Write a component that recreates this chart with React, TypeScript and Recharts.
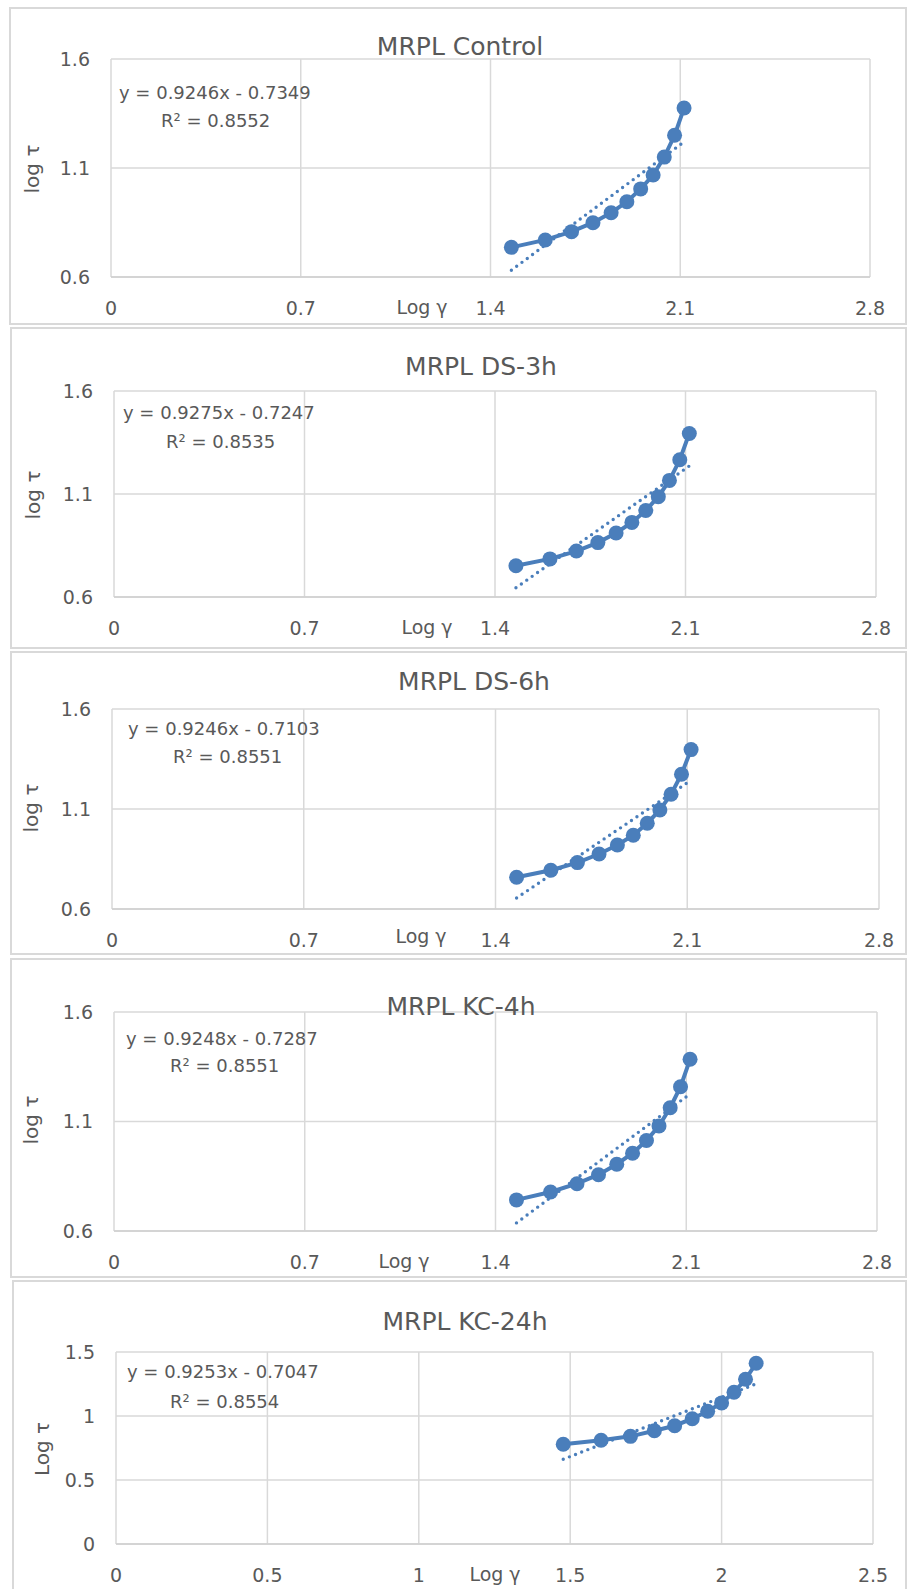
import { ComposedChart, Line, XAxis, YAxis, CartesianGrid } from "recharts";

const FONT = '"DejaVu Sans", sans-serif';
const BLUE = "#4a7ebb";
const GRID = "#d9d9d9";
const TEXT = "#595959";

// log of shear rate (same for every sample)
const LOG_GAMMA = [1.477, 1.602, 1.699, 1.778, 1.845, 1.903, 1.954, 2.0, 2.041, 2.079, 2.114];

// log of shear stress, one array per sample
const TAU_CONTROL = [0.736, 0.770, 0.808, 0.849, 0.895, 0.945, 1.004, 1.068, 1.150, 1.250, 1.375];
const TAU_DS3 = [0.752, 0.785, 0.823, 0.864, 0.911, 0.962, 1.020, 1.087, 1.166, 1.266, 1.394];
const TAU_DS6 = [0.759, 0.794, 0.832, 0.875, 0.920, 0.969, 1.029, 1.095, 1.174, 1.274, 1.397];
const TAU_KC4 = [0.742, 0.778, 0.816, 0.857, 0.905, 0.955, 1.013, 1.080, 1.163, 1.259, 1.384];
const TAU_KC24 = [0.779, 0.810, 0.841, 0.885, 0.924, 0.979, 1.037, 1.102, 1.185, 1.287, 1.412];

// linear trendline end points
const TREND_X = [1.477, 2.114];
const TREND_CONTROL = [0.631, 1.220];
const TREND_DS3 = [0.645, 1.236];
const TREND_DS6 = [0.655, 1.244];
const TREND_KC4 = [0.637, 1.226];
const TREND_KC24 = [0.662, 1.251];

const TITLES = ["MRPL Control", "MRPL DS-3h", "MRPL DS-6h", "MRPL KC-4h", "MRPL KC-24h"];
const EQUATIONS = [
  "y = 0.9246x - 0.7349",
  "y = 0.9275x - 0.7247",
  "y = 0.9246x - 0.7103",
  "y = 0.9248x - 0.7287",
  "y = 0.9253x - 0.7047",
];
const R2 = ["0.8552", "0.8535", "0.8551", "0.8551", "0.8554"];
const X_LABEL = "Log γ";
const Y_LABELS = ["log τ", "log τ", "log τ", "log τ", "Log τ"];

const X_TICKS_A = [0, 0.7, 1.4, 2.1, 2.8];
const Y_TICKS_A = [0.6, 1.1, 1.6];
const X_TICKS_B = [0, 0.5, 1, 1.5, 2, 2.5];
const Y_TICKS_B = [0, 0.5, 1, 1.5];

const SERIES = [TAU_CONTROL, TAU_DS3, TAU_DS6, TAU_KC4, TAU_KC24];
const TRENDS = [TREND_CONTROL, TREND_DS3, TREND_DS6, TREND_KC4, TREND_KC24];

// page-coordinate layout of each panel
type Layout = {
  box: [number, number, number]; // left, top, bottom
  plot: [number, number, number, number]; // L, R, T, B
  title: [number, number];
  eq: [number, number];
  r2: [number, number];
  xl: [number, number];
  yl: [number, number];
};
const LAYOUT: Layout[] = [
  { box: [9, 7, 325], plot: [111, 870, 59, 277], title: [460, 48], eq: [119, 94], r2: [161, 122], xl: [422, 308], yl: [32, 169] },
  { box: [10, 327, 649], plot: [114, 876, 391, 597], title: [481, 368], eq: [123, 414], r2: [166, 443], xl: [427, 628], yl: [33, 495] },
  { box: [10, 651, 955], plot: [112, 879, 709, 909], title: [474, 683], eq: [128, 730], r2: [173, 758], xl: [421, 937], yl: [31, 808] },
  { box: [10, 958, 1278], plot: [114, 877, 1012, 1231], title: [461, 1008], eq: [126, 1040], r2: [170, 1067], xl: [404, 1262], yl: [31, 1120] },
  { box: [12, 1280, 1600], plot: [116, 873, 1352, 1544], title: [465, 1323], eq: [127, 1373], r2: [170, 1403], xl: [495, 1575], yl: [42, 1449] },
];

const TICK = { fontSize: 19, fill: TEXT, fontFamily: FONT };

function Panel({ i }: { i: number }) {
  const lay = LAYOUT[i];
  const [L, R, T, B] = lay.plot;
  const last = i === 4;
  const xTicks = last ? X_TICKS_B : X_TICKS_A;
  const yTicks = last ? Y_TICKS_B : Y_TICKS_A;
  const pts = LOG_GAMMA.map((x, k) => ({ x, y: SERIES[i][k] }));
  const trend = TREND_X.map((x, k) => ({ x, y: TRENDS[i][k] }));
  const abs = { position: "absolute" as const, fontFamily: FONT, color: TEXT, lineHeight: 1, whiteSpace: "nowrap" as const };
  return (
    <>
      <div
        style={{
          position: "absolute", left: lay.box[0], top: lay.box[1],
          width: 907 - lay.box[0], height: lay.box[2] - lay.box[1],
          border: `2px solid ${GRID}`, boxSizing: "border-box",
        }}
      />
      <div style={{ position: "absolute", left: 0, top: T - 10 }}>
        <ComposedChart
          width={R + 20} height={B - T + 62}
          margin={{ top: 10, right: 20, bottom: 0, left: 0 }}
          style={{ fontFamily: FONT, overflow: "visible" }}
        >
          <CartesianGrid stroke={GRID} strokeWidth={1.5} />
          <XAxis
            type="number" dataKey="x" domain={[xTicks[0], xTicks[xTicks.length - 1]]}
            ticks={xTicks} interval={0} height={52} tickLine={false} tickSize={0} tickMargin={25}
            axisLine={{ stroke: "#cfcfcf", strokeWidth: 1.5 }} tick={TICK}
          />
          <YAxis
            type="number" domain={[yTicks[0], yTicks[yTicks.length - 1]]}
            ticks={yTicks} interval={0} width={L} tickLine={false} tickSize={0} tickMargin={21}
            axisLine={false} tick={TICK}
          />
          <Line
            data={trend} dataKey="y" stroke={BLUE} strokeWidth={3.4}
            strokeDasharray="0 6.6" strokeLinecap="round" dot={false}
            isAnimationActive={false}
          />
          <Line
            data={pts} dataKey="y" stroke={BLUE} strokeWidth={4}
            dot={{ r: 7.5, fill: BLUE, stroke: BLUE, strokeWidth: 0 }}
            isAnimationActive={false}
          />
        </ComposedChart>
      </div>
      <div style={{ ...abs, left: lay.title[0], top: lay.title[1], fontSize: 25, transform: "translate(-50%, -55%)" }}>
        {TITLES[i]}
      </div>
      <div style={{ ...abs, left: lay.eq[0], top: lay.eq[1], fontSize: 18, transform: "translateY(-55%)" }}>
        {EQUATIONS[i]}
      </div>
      <div style={{ ...abs, left: lay.r2[0], top: lay.r2[1], fontSize: 18, transform: "translateY(-55%)" }}>
        R² = {R2[i]}
      </div>
      <div style={{ ...abs, left: lay.xl[0], top: lay.xl[1], fontSize: 19, transform: "translate(-50%, -55%)" }}>
        {X_LABEL}
      </div>
      <div
        style={{
          ...abs, left: lay.yl[0], top: lay.yl[1], fontSize: 20,
          transform: "translate(-50%, -50%) rotate(-90deg)",
        }}
      >
        {Y_LABELS[i]}
      </div>
    </>
  );
}

export default function App() {
  return (
    <div style={{ position: "absolute", left: 0, top: 0, width: 908, height: 1589, background: "#fff", overflow: "hidden" }}>
      {TITLES.map((_, i) => <Panel key={i} i={i} />)}
    </div>
  );
}
